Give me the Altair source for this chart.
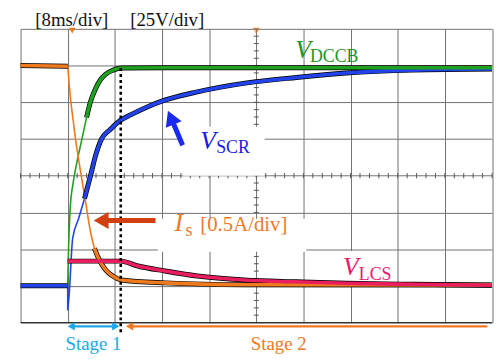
import altair as alt
import pandas as pd
import numpy as np

# Oscilloscope capture: 8 ms/div, 25 V/div, 0.5 A/div; time relative to trigger (ms)
V_DIV = 25.0
A_DIV = 0.5

# V_DCCB (V)
dccb_t = [0, 0.1, 0.45, 0.84, 1.56, 2.40, 3.19, 3.86, 4.70, 5.54, 6.38, 7.72, 9.07, 20, 40, 72]
dccb_v = [0, 18.9, 54.6, 68.1, 84.2, 99.7, 114.6, 125.3, 134.1, 140.2, 143.9, 146.9, 148.3, 148.5, 148.5, 148.5]

# V_SCR (V)
scr_t = [-8, 0, 0, 0.84, 1.85, 2.85, 3.86, 4.70, 5.71, 7.22, 8.9, 10.75, 13.6, 16.45, 22.0, 30.4, 38.8, 47.2, 58.4, 72]
scr_v = [0, 0, -16.2, 32.3, 45.8, 59.3, 74.8, 88.3, 99.7, 106.5, 112.5, 116.6, 122.0, 126.4, 132.1, 138.2, 141.9, 144.9, 146.9, 147.6]

# I_s (A)
is_t = [-8, 0, 0.17, 0.5, 0.92, 1.34, 1.85, 2.52, 3.02, 3.86, 4.53, 5.2, 6.4, 7.7, 9.1, 16.5, 29.9, 72]
is_a = [3.0, 2.99, 2.83, 2.53, 2.26, 1.99, 1.72, 1.39, 1.15, 0.74, 0.51, 0.38, 0.22, 0.13, 0.08, 0.04, 0.015, 0.01]

# V_LCS (V)
lcs_t = [0, 9.0, 11.9, 16.5, 22.0, 29.9, 38.8, 47.2, 58.9, 72]
lcs_v = [16.8, 16.8, 13.5, 10.1, 6.7, 4.0, 2.7, 1.7, 1.0, 0.3]

series_names = ["SCR", "DCCB", "Is", "LCS"]
series_colors = ["#2242EA", "#1FA11F", "#F07A1E", "#E81E5E"]

stage_end_ms = 9.0


def seg_rows(name, ts, ys, scale, segs):
    rows = []
    for k, (a, b, style) in enumerate(segs):
        for i in range(a, b + 1):
            rows.append(dict(series=name, seg=f"{name}{k}", style=style,
                             t=ts[i], y=ys[i] / scale, i=i))
    return rows


rows = []
rows += seg_rows("SCR", scr_t, scr_v, V_DIV, [(0, 1, "thick"), (1, 5, "thin"), (5, len(scr_t) - 1, "thick")])
rows += seg_rows("DCCB", dccb_t, dccb_v, V_DIV, [(0, 6, "thin"), (6, len(dccb_t) - 1, "thick")])
rows += seg_rows("Is", is_t, is_a, A_DIV, [(0, 1, "thick"), (1, 10, "thin"), (10, len(is_t) - 1, "thick")])
rows += seg_rows("LCS", lcs_t, lcs_v, V_DIV, [(0, len(lcs_t) - 1, "thick")])
df = pd.DataFrame(rows)
thick = df[df["style"] == "thick"]
thin = df[df["style"] == "thin"]

xs = alt.Scale(domain=[-8, 72], nice=False, zero=False)
ys = alt.Scale(domain=[-1, 7], nice=False, zero=False)
xaxis = alt.Axis(values=list(range(-8, 73, 8)), grid=True, labels=False, ticks=False,
                 domain=False, title=None, gridColor="#707070", gridWidth=1, gridOpacity=1)
yaxis = alt.Axis(values=list(range(-1, 8)), grid=True, labels=False, ticks=False,
                 domain=False, title=None, gridColor="#707070", gridWidth=1, gridOpacity=1)


def X(f="t"):
    return alt.X(f"{f}:Q", scale=xs, axis=xaxis)


def Y(f="y"):
    return alt.Y(f"{f}:Q", scale=ys, axis=yaxis)


color_enc = alt.Color("series:N", scale=alt.Scale(domain=series_names, range=series_colors), legend=None)

# center axis ticks
htick = pd.DataFrame({"t": np.arange(-8, 72.01, 1.6)})
htick["y"] = 3 - 0.07
htick["y2"] = 3 + 0.07
vtick = pd.DataFrame({"y": np.arange(-1, 7.01, 0.2)})
vtick["t"] = 32 - 0.42
vtick["t2"] = 32 + 0.42
h_ticks = alt.Chart(htick).mark_rule(color="#555555", strokeWidth=1).encode(x=X(), y=Y(), y2="y2:Q")
v_ticks = alt.Chart(vtick).mark_rule(color="#555555", strokeWidth=1).encode(x=X(), x2="t2:Q", y=Y())

bottom = pd.DataFrame({"t": [-8], "t2": [72], "y": [-1]})
bottom_rule = alt.Chart(bottom).mark_rule(color="#333333", strokeWidth=1.2).encode(x=X(), x2="t2:Q", y=Y())

# white boxes behind labels
boxes = pd.DataFrame({
    "t": [19.5, 15.3, 45.5],
    "t2": [33.4, 40.5, 55.6],
    "y": [3.0, 0.93, 0.1],
    "y2": [4.33, 1.83, 0.95],
})
box_layer = alt.Chart(boxes).mark_rect(color="white").encode(x=X(), x2="t2:Q", y=Y(), y2="y2:Q")

line_black = alt.Chart(thick).mark_line(color="black", strokeWidth=5, interpolate="monotone").encode(
    x=X(), y=Y(), detail="seg:N", order="i:Q")
line_col = alt.Chart(thick).mark_line(strokeWidth=3.6, interpolate="monotone").encode(
    x=X(), y=Y(), detail="seg:N", order="i:Q", color=color_enc)
line_thin = alt.Chart(thin).mark_line(strokeWidth=1.6, interpolate="monotone").encode(
    x=X(), y=Y(), detail="seg:N", order="i:Q", color=color_enc)

# dotted stage boundary
dot = pd.DataFrame({"t": [stage_end_ms], "y": [148.3 / V_DIV], "y2": [-1.32]})
dot_layer = alt.Chart(dot).mark_rule(color="black", strokeWidth=2.6, strokeDash=[3, 3]).encode(
    x=X(), y=Y(), y2="y2:Q")

# stage arrows
stage_lines = pd.DataFrame({"t": [0.4, 10.4], "t2": [8.4, 71.2], "y": [-1.105, -1.105],
                            "c": ["#1CA8E6", "#F07820"]})
stage_rule = alt.Chart(stage_lines).mark_rule(strokeWidth=2.2).encode(
    x=X(), x2="t2:Q", y=Y(), color=alt.Color("c:N", scale=None))
heads = pd.DataFrame({"t": [0.6, 8.15, 10.5], "y": [-1.105] * 3,
                      "shape": ["triangle-left", "triangle-right", "triangle-left"],
                      "c": ["#1CA8E6", "#1CA8E6", "#F07820"]})
stage_heads = alt.Chart(heads).mark_point(filled=True, size=70, opacity=1).encode(
    x=X(), y=Y(), shape=alt.Shape("shape:N", scale=None), color=alt.Color("c:N", scale=None))

# annotation arrows
arr = pd.DataFrame({"t": [19.5, 14.9], "y": [3.83, 1.78], "t2": [17.6, 6.0], "y2": [4.55, 1.78],
                    "c": ["#1A2AF0", "#D04010"]})
arr_rule = alt.Chart(arr).mark_rule(strokeWidth=5).encode(
    x=X(), x2="t2:Q", y=Y(), y2="y2:Q", color=alt.Color("c:N", scale=None))
arr_heads = pd.DataFrame({"t": [17.5, 5.67], "y": [4.58, 1.78], "angle": [337, 270],
                          "c": ["#1A2AF0", "#D04010"]})
arr_head = alt.Chart(arr_heads).mark_point(filled=True, size=300, opacity=1, shape="triangle-up").encode(
    x=X(), y=Y(), angle=alt.Angle("angle:Q", scale=None), color=alt.Color("c:N", scale=None))

# trigger markers
trig = alt.Chart(pd.DataFrame({"t": [0.76], "y": [6.95]})).mark_point(
    filled=True, shape="triangle-down", size=45, color="#F07A1E", opacity=1).encode(x=X(), y=Y())
trig2 = alt.Chart(pd.DataFrame({"t": [32], "y": [6.95]})).mark_point(
    filled=False, shape="triangle-down", size=30, color="#F07A1E", strokeWidth=1.2).encode(x=X(), y=Y())

FONT = "Liberation Serif, Times New Roman, serif"
lab_big = pd.DataFrame({"t": [38.6, 22.5, 46.7, 18.1], "y": [6.20, 3.72, 0.30, 1.48],
                        "text": ["V", "V", "V", "I"],
                        "c": ["#1E961E", "#1A1AE8", "#E8186A", "#EE7A2A"]})
lab_sub = pd.DataFrame({"t": [41.1, 25.2, 49.4, 20.0], "y": [6.09, 3.61, 0.16, 1.37],
                        "text": ["DCCB", "SCR", "LCS", "s"],
                        "c": ["#1E961E", "#1A1AE8", "#E8186A", "#EE7A2A"]})
lab_norm = pd.DataFrame({"t": [22.5], "y": [1.48], "text": ["[0.5A/div]"], "c": ["#EE7A2A"]})
lab_top = pd.DataFrame({"t": [-5.5, 10.6], "y": [7.08, 7.08], "text": ["[8ms/div]", "[25V/div]"],
                        "c": ["#111111", "#111111"]})
lab_stage = pd.DataFrame({"t": [4.37, 35.8], "y": [-1.75, -1.75], "text": ["Stage 1", "Stage 2"],
                          "c": ["#1CA8E6", "#F07820"]})

t_big = alt.Chart(lab_big).mark_text(font=FONT, fontSize=26, fontStyle="italic", align="left",
                                     baseline="alphabetic").encode(
    x=X(), y=Y(), text="text:N", color=alt.Color("c:N", scale=None))
t_sub = alt.Chart(lab_sub).mark_text(font=FONT, fontSize=18, align="left", baseline="alphabetic").encode(
    x=X(), y=Y(), text="text:N", color=alt.Color("c:N", scale=None))
t_norm = alt.Chart(lab_norm).mark_text(font=FONT, fontSize=21, align="left", baseline="alphabetic").encode(
    x=X(), y=Y(), text="text:N", color=alt.Color("c:N", scale=None))
t_top = alt.Chart(lab_top).mark_text(font=FONT, fontSize=19, align="left", baseline="alphabetic").encode(
    x=X(), y=Y(), text="text:N", color=alt.Color("c:N", scale=None))
t_stage = alt.Chart(lab_stage).mark_text(font=FONT, fontSize=19, align="center", baseline="alphabetic").encode(
    x=X(), y=Y(), text="text:N", color=alt.Color("c:N", scale=None))

chart = alt.layer(
    h_ticks, v_ticks, bottom_rule, box_layer,
    line_thin, line_black, line_col,
    dot_layer, stage_rule, stage_heads, arr_rule, arr_head, trig, trig2,
    t_big, t_sub, t_norm, t_top, t_stage,
).properties(
    width=476.5, height=296.8,
    padding={"left": 12.7, "top": 19.2, "right": 2, "bottom": 35},
    autosize=alt.AutoSizeParams(type="none"),
    background="white",
).configure_view(stroke=None)

chart.save("out.html", embed_options={"renderer": "svg", "actions": False})
